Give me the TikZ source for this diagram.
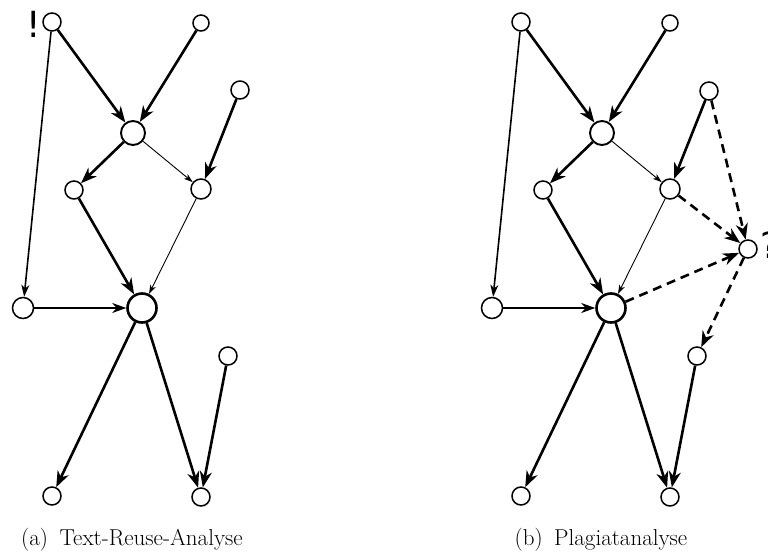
\documentclass[tikz,border=0pt]{standalone}
\usepackage{fontspec}
\newfontfamily\markfont{DejaVu Sans}
\usetikzlibrary{arrows.meta}
\begin{document}
\begin{tikzpicture}[x=1pt,y=-1pt,
  v/.style={circle,draw,line width=1.5pt,inner sep=0pt,minimum size=18pt},
  vs/.style={v,minimum size=16pt},
  vm/.style={v,line width=1.9pt,minimum size=24pt},
  vb/.style={v,line width=2.6pt,minimum size=29pt},
  e/.style={line width=2.6pt,-{Stealth[length=16pt,width=12pt,inset=5pt]}},
  emed/.style={line width=2.1pt,-{Stealth[length=14pt,width=10pt,inset=4.5pt]}},
  elight/.style={line width=1.6pt,-{Stealth[length=12pt,width=8pt,inset=3.5pt]}},
  ethin/.style={line width=0.9pt,-{Stealth[length=9pt,width=6pt,inset=2.5pt]}},
  ed/.style={e,dash pattern=on 9pt off 6pt},
  marktext/.style={font=\markfont\fontsize{36}{42}\selectfont,inner sep=0pt},
  captext/.style={font=\fontsize{23}{27}\selectfont,inner sep=0pt}
]
\useasboundingbox (0,0) rectangle (768,556);
% ---------- (a)
\node[v]  (an1) at (52,22) {};
\node[vs] (an2) at (201,23) {};
\node[v]  (an3) at (240,90) {};
\node[vm] (ac1) at (133,133) {};
\node[v]  (am1) at (74,190) {};
\node[v,minimum size=20pt] (am2) at (201,189) {};
\node[v,minimum size=21pt] (aL) at (23,308) {};
\node[vb] (aC) at (142,308) {};
\node[v]  (aR) at (228,356) {};
\node[v]  (aB1) at (52,496) {};
\node[v]  (aB2) at (201,497) {};
\node[marktext] (aex) at (34,24) {!};
\draw[elight] (an1) -- (aL);
\draw[e] (an1) -- (ac1);
\draw[e] (an2) -- (ac1);
\draw[e] (ac1) -- (am1);
\draw[ethin] (ac1) -- (am2);
\draw[e] (an3) -- (am2);
\draw[e] (am1) -- (aC);
\draw[ethin] (am2) -- (aC);
\draw[emed] (aL) -- (aC);
\draw[e] (aC) -- (aB1);
\draw[e] (aC) -- (aB2);
\draw[e] (aR) -- (aB2);
\node[captext] (acap) at (132,540) {(a)\enspace Text-Reuse-Analyse};
% ---------- (b)
\node[v]  (bn1) at (521,22) {};
\node[vs] (bn2) at (670,23) {};
\node[v]  (bn3) at (709,91) {};
\node[vm] (bc1) at (602,133) {};
\node[v]  (bm1) at (543,190) {};
\node[v,minimum size=20pt] (bm2) at (670,189) {};
\node[v,minimum size=21pt] (bL) at (492,308) {};
\node[vb] (bC) at (611,308) {};
\node[v]  (bQ) at (748,249) {};
\node[v]  (bR) at (697,356) {};
\node[v]  (bB1) at (521,496) {};
\node[v]  (bB2) at (670,497) {};
\node[marktext,anchor=west] (bq) at (760,245) {?};
\draw[elight] (bn1) -- (bL);
\draw[e] (bn1) -- (bc1);
\draw[e] (bn2) -- (bc1);
\draw[e] (bc1) -- (bm1);
\draw[ethin] (bc1) -- (bm2);
\draw[e] (bn3) -- (bm2);
\draw[e] (bm1) -- (bC);
\draw[ethin] (bm2) -- (bC);
\draw[emed] (bL) -- (bC);
\draw[e] (bC) -- (bB1);
\draw[e] (bC) -- (bB2);
\draw[e] (bR) -- (bB2);
\draw[ed] (bn3) -- (bQ);
\draw[ed] (bm2) -- (bQ);
\draw[ed] (bC) -- (bQ);
\draw[ed] (bQ) -- (bR);
\node[captext] (bcap) at (601,540) {(b)\enspace Plagiatanalyse};
\end{tikzpicture}
\end{document}
